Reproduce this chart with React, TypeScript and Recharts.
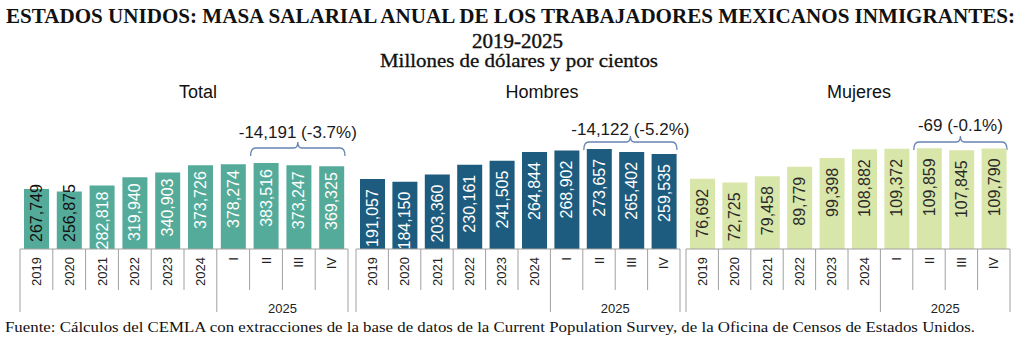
import React from 'react';
import { BarChart, Bar, XAxis, YAxis, LabelList, ReferenceArea } from 'recharts';

const categories = ['2019', '2020', '2021', '2022', '2023', '2024', 'I', 'II', 'III', 'IV'];
const totalValues = [267749, 256875, 282818, 319940, 340903, 373726, 378274, 383516, 373247, 369325];
const hombresValues = [191057, 184150, 203360, 230161, 241505, 264844, 268902, 273657, 265402, 259535];
const mujeresValues = [76692, 72725, 79458, 89779, 99398, 108882, 109372, 109859, 107845, 109790];
const groupLabel = '2025';
const changeLabels = ['-14,191 (-3.7%)', '-14,122 (-5.2%)', '-69 (-0.1%)'];

const SANS = "'Liberation Sans', Arial, sans-serif";
const SERIF = "'Liberation Serif', 'DejaVu Serif', serif";
const AXIS = '#a0a0a0';
const W = 1024;

const toRows = (vals: number[]) => categories.map((name, i) => ({ name, value: vals[i] }));

// category tick: rotated label plus the divider lines of the grouped axis
function CatTick(props: any) {
  const { x, y, payload, index } = props;
  const half = payload && payload.offset ? payload.offset : 16.3;
  const last = index === categories.length - 1;
  const long = (i: number) => i === 0 || i === 6;
  return (
    <g>
      <line x1={x - half} x2={x - half} y1={y} y2={y + (long(index) ? 63 : 41)} stroke={AXIS} />
      {last && <line x1={x + half} x2={x + half} y1={y} y2={y + 63} stroke={AXIS} />}
      <text
        x={x}
        y={y + 8}
        transform={`rotate(-90 ${x} ${y + 8})`}
        textAnchor="end"
        dominantBaseline="central"
        fontSize={13}
        fontFamily={SANS}
        fill="#222"
      >
        {payload.value}
      </text>
      {index === 6 && (
        <text x={x + half * 3} y={y + 64} textAnchor="middle" fontSize={13} fontFamily={SANS} fill="#222">
          {groupLabel}
        </text>
      )}
    </g>
  );
}

function makeValueLabel(color: string, topPad: number, darkCount: number) {
  return (props: any) => {
    const { x, y, width, height, value, index } = props;
    const cx = x + width / 2;
    const dark = index < darkCount;
    const py = dark ? y + height - 7 : y + topPad;
    return (
      <text
        x={cx}
        y={py}
        transform={`rotate(-90 ${cx} ${py})`}
        textAnchor={dark ? 'start' : 'end'}
        dominantBaseline="central"
        fontSize={16}
        fontFamily={SANS}
        fill={dark ? '#111' : color}
      >
        {Number(value).toLocaleString('en-US')}
      </text>
    );
  };
}

function makeBracket(label: string, drop: number, textGap: number) {
  return (props: any) => {
    const { x, y, width } = props;
    const x0 = x + 1;
    const x1 = x + width - 3;
    const cx = (x0 + x1) / 2;
    const yb = y + drop;
    const d = `M${x0},${yb + 8} Q${x0},${yb} ${x0 + 5},${yb} L${cx - 4},${yb} Q${cx},${yb} ${cx},${yb - 6} Q${cx},${yb} ${cx + 4},${yb} L${x1 - 5},${yb} Q${x1},${yb} ${x1},${yb + 8}`;
    return (
      <g>
        <path d={d} fill="none" stroke="#6684b4" strokeWidth={1.3} />
        <text x={cx} y={yb - textGap} textAnchor="middle" fontSize={17} fontFamily={SANS} fill="#1a1a1a">
          {label}
        </text>
      </g>
    );
  };
}

// each panel is a full-width chart whose plot area is narrowed by its margins
function Panel(p: {
  values: number[];
  color: string;
  labelColor: string;
  yMax: number;
  plotLeft: number;
  plotRight: number;
  change: string;
  drop: number;
  textGap: number;
  topPad: number;
  darkCount: number;
}) {
  return (
    <div style={{ position: 'absolute', left: 0, top: 0 }}>
      <BarChart
        width={W}
        height={340}
        data={toRows(p.values)}
        margin={{ top: 129, right: W - p.plotRight, bottom: 31, left: p.plotLeft }}
        barCategoryGap={0}
      >
        <XAxis
          dataKey="name"
          interval={0}
          height={60}
          tickLine={false}
          tickSize={0}
          tickMargin={0}
          axisLine={{ stroke: AXIS }}
          tick={(t: any) => <CatTick {...t} />}
        />
        <YAxis hide domain={[0, p.yMax]} />
        <ReferenceArea x1="II" x2="IV" fill="none" stroke="none" shape={makeBracket(p.change, p.drop, p.textGap)} />
        <Bar dataKey="value" fill={p.color} barSize={25} isAnimationActive={false}>
          <LabelList dataKey="value" content={makeValueLabel(p.labelColor, p.topPad, p.darkCount)} />
        </Bar>
      </BarChart>
    </div>
  );
}

export default function App() {
  return (
    <div style={{ position: 'absolute', left: 0, top: 0, width: 1024, height: 340, background: '#fff', overflow: 'hidden' }}>
      <Panel values={totalValues} color="#55ab99" labelColor="#fff" yMax={535000} plotLeft={20} plotRight={348}
        change={changeLabels[0]} drop={19} textGap={10} topPad={6} darkCount={2} />
      <Panel values={hombresValues} color="#1d5c7e" labelColor="#fff" yMax={328000} plotLeft={356} plotRight={680}
        change={changeLabels[1]} drop={13} textGap={7} topPad={10} darkCount={0} />
      <Panel values={mujeresValues} color="#d9e6a9" labelColor="#2a2a2a" yMax={131000} plotLeft={686} plotRight={1010}
        change={changeLabels[2]} drop={13} textGap={11} topPad={10} darkCount={0} />
      <svg width={1024} height={340} style={{ position: 'absolute', left: 0, top: 0, pointerEvents: 'none' }}>
        <text x={6} y={23} fontFamily={SERIF} fontWeight="bold" fontSize={20} fill="#111"
          textLength={1009} lengthAdjust="spacingAndGlyphs">
          ESTADOS UNIDOS: MASA SALARIAL ANUAL DE LOS TRABAJADORES MEXICANOS INMIGRANTES:
        </text>
        <text x={472} y={48} fontFamily={SERIF} fontSize={20} fill="#111" stroke="#111" strokeWidth={0.4}
          textLength={91} lengthAdjust="spacingAndGlyphs">
          2019-2025
        </text>
        <text x={380} y={67} fontFamily={SERIF} fontSize={18} fill="#111" stroke="#111" strokeWidth={0.3}
          textLength={278} lengthAdjust="spacingAndGlyphs">
          Millones de dólares y por cientos
        </text>
        <text x={198} y={98} textAnchor="middle" fontFamily={SANS} fontSize={18} fill="#111">Total</text>
        <text x={542} y={98} textAnchor="middle" fontFamily={SANS} fontSize={18} fill="#111">Hombres</text>
        <text x={859} y={98} textAnchor="middle" fontFamily={SANS} fontSize={18} fill="#111">Mujeres</text>
        <text x={5} y={332} fontFamily={SERIF} fontSize={14} fill="#111" textLength={970} lengthAdjust="spacingAndGlyphs">
          Fuente: Cálculos del CEMLA con extracciones de la base de datos de la Current Population Survey, de la Oficina de Censos de Estados Unidos.
        </text>
      </svg>
    </div>
  );
}
